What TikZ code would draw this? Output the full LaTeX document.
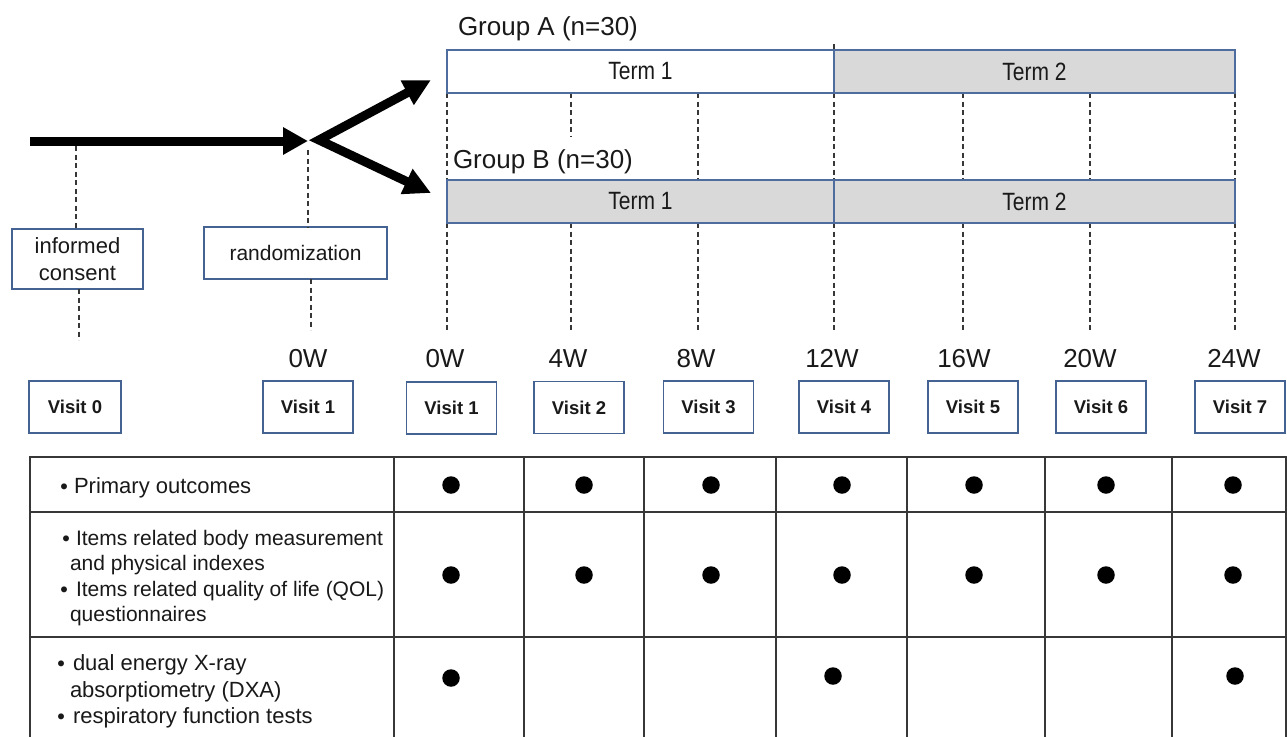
\documentclass[tikz,border=0pt]{standalone}
\usepackage{fontspec}
\setmainfont{Liberation Sans}
\newfontfamily\cjk{Noto Sans CJK JP}
\usetikzlibrary{arrows.meta}
\definecolor{boxblue}{RGB}{78,108,158}
\definecolor{visitblue}{RGB}{68,98,146}
\definecolor{termgray}{RGB}{217,217,217}
\definecolor{linegray}{RGB}{55,55,55}
\definecolor{txt}{RGB}{25,25,25}
\newcommand\mybul[1]{\llap{\raisebox{-4pt}{\cjk\fontsize{28}{28}\selectfont\makebox[0pt]{・}}\hspace{#1}}}
\begin{document}
\begin{tikzpicture}[x=1pt,y=-1pt,
  every node/.style={inner sep=0pt, outer sep=0pt, text=txt},
  visitbox/.style={draw=visitblue, line width=1.1pt, fill=white, minimum width=90pt, minimum height=52pt, font=\fontsize{18.5}{22}\selectfont\bfseries},
  termbox/.style={draw=boxblue, line width=1.2pt, minimum height=43pt, font=\fontsize{25}{30}\selectfont},
  labelbox/.style={draw=visitblue, line width=1.1pt, fill=white, align=center},
  weeklbl/.style={anchor=base, font=\fontsize{26}{30}\selectfont},
  grouplbl/.style={anchor=base west, font=\fontsize{26}{30}\selectfont},
  dashline/.style={draw=linegray, line width=1.3pt, dash pattern=on 5pt off 3.5pt},
  bigarrow/.style={line width=9pt, -{Triangle[length=25pt,width=26pt]}},
  forkarrow/.style={line width=9pt, line join=miter, {Triangle[length=27pt,width=26pt]}-{Triangle[length=27pt,width=26pt]}},
  tableline/.style={draw=linegray, line width=1.5pt},
  dotmark/.style={circle, fill=black, minimum size=17.5pt},
  rowtxt/.style={anchor=base west},
]
\useasboundingbox (0,0) rectangle (1287,736);

% ---------- dashed time lines (behind the term boxes) ----------
\coordinate (top4) at (834,44);
\coordinate (topb4) at (834,50);
\draw[dashline] (top4) -- (topb4);
\foreach \x/\yb [count=\i] in {447/180,571/136,698/180,834/180,963/180,1090/180,1235/180} {
  \coordinate (ga\i) at (\x,93);
  \coordinate (gb\i) at (\x,\yb);
  \coordinate (gc\i) at (\x,223);
  \coordinate (gd\i) at (\x,330);
  \draw[dashline] (ga\i) -- (gb\i);
  \draw[dashline] (gc\i) -- (gd\i);
}

% ---------- group labels and term boxes ----------
\node[grouplbl] (grpA) at (458,35) {Group A (n=30)};
\node[grouplbl] (grpB) at (453,168) {Group B (n=30)};

\node[termbox, fill=white, minimum width=387pt] (A1) at (640.5,71.5) {\scalebox{0.84}[1]{Term 1}};
\node[termbox, fill=termgray, minimum width=401pt] (A2) at (1034.5,71.5) {\scalebox{0.84}[1]{Term 2}};
\node[termbox, fill=termgray, minimum width=387pt] (B1) at (640.5,201.5) {\scalebox{0.84}[1]{Term 1}};
\node[termbox, fill=termgray, minimum width=401pt] (B2) at (1034.5,201.5) {\scalebox{0.84}[1]{Term 2}};

% ---------- arrows ----------
\coordinate (start) at (30,141);
\coordinate (split) at (308,141);
\coordinate (fork) at (319,140);
\coordinate (tipA) at (431,80);
\coordinate (tipB) at (431,193);
\draw[bigarrow] (start) -- (split);
\draw[forkarrow] (tipA) -- (fork) -- (tipB);

% ---------- informed consent / randomization ----------
\node[labelbox, minimum width=131pt, minimum height=60pt, font=\fontsize{22}{27}\selectfont] (ic) at (77.5,259) {informed\\consent};
\node[labelbox, minimum width=183pt, minimum height=52pt, font=\fontsize{21}{25}\selectfont] (rand) at (295.5,253) {randomization};

\coordinate (ic1) at (76,146);
\coordinate (ic2) at (79,340);
\draw[dashline] (ic1) -- (ic1 |- ic.north);
\draw[dashline] (ic2 |- ic.south) -- (ic2);
\coordinate (r1) at (308,150);
\coordinate (r2) at (311,330);
\draw[dashline] (r1) -- (r1 |- rand.north);
\draw[dashline] (r2 |- rand.south) -- (r2);

% ---------- week labels ----------
\node[weeklbl] (w0a) at (308,367) {0W};
\node[weeklbl] (w0b) at (445,367) {0W};
\node[weeklbl] (w4)  at (568,367) {4W};
\node[weeklbl] (w8)  at (696,367) {8W};
\node[weeklbl] (w12) at (832,367) {12W};
\node[weeklbl] (w16) at (964,367) {16W};
\node[weeklbl] (w20) at (1090,367) {20W};
\node[weeklbl] (w24) at (1234,367) {24W};

% ---------- visit boxes ----------
\node[visitbox, minimum width=92pt] (v0) at (75,407) {Visit 0};
\node[visitbox] (v1a) at (308,407) {Visit 1};
\node[visitbox] (v1b) at (451.5,408) {Visit 1};
\node[visitbox] (v2) at (579,407.5) {Visit 2};
\node[visitbox] (v3) at (708.5,407) {Visit 3};
\node[visitbox] (v4) at (844,407) {Visit 4};
\node[visitbox] (v5) at (973,407) {Visit 5};
\node[visitbox] (v6) at (1101,407) {Visit 6};
\node[visitbox] (v7) at (1240,407) {Visit 7};

% ---------- table ----------
\foreach \y in {457,512,637} {
  \draw[tableline] (30,\y) -- (1286,\y);
}
\foreach \x in {30,394,524,644,776,907,1045,1172,1286} {
  \draw[tableline] (\x,456.25) -- (\x,740);
}

% row texts
\begin{scope}[every node/.append style={font=\fontsize{22}{26}\selectfont}]
\node[rowtxt] (t1) at (74,493) {\mybul{9.5pt}Primary outcomes};
\node[rowtxt] (t3a) at (73,670) {\mybul{12pt}dual energy X-ray};
\node[rowtxt] (t3b) at (70,697) {absorptiometry (DXA)};
\node[rowtxt] (t3c) at (73,723) {\mybul{12pt}respiratory function tests};
\end{scope}
\begin{scope}[every node/.append style={font=\fontsize{21}{25}\selectfont}]
\node[rowtxt] (t2a) at (76,545) {\mybul{10pt}Items related body measurement};
\node[rowtxt] (t2b) at (70,570) {and physical indexes};
\node[rowtxt] (t2c) at (76,596) {\mybul{12pt}Items related quality of life (QOL)};
\node[rowtxt] (t2d) at (70,621) {questionnaires};
\end{scope}

% dots
\foreach \x [count=\i] in {451,584,711,842,974,1106,1233} {
  \node[dotmark] (d1\i) at (\x,485) {};
  \node[dotmark] (d2\i) at (\x,575) {};
}
\node[dotmark] (d31) at (451,678) {};
\node[dotmark] (d34) at (833,676) {};
\node[dotmark] (d37) at (1235,676) {};
\end{tikzpicture}
\end{document}
